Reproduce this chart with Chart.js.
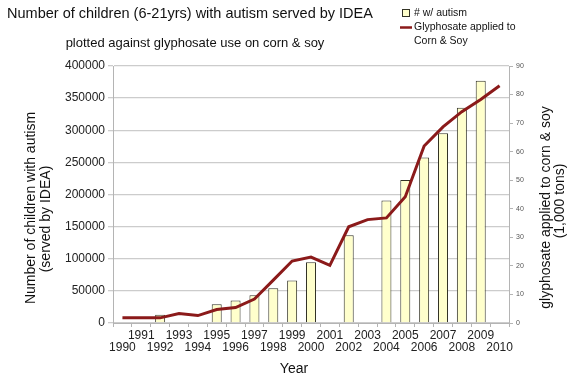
<!DOCTYPE html>
<html>
<head>
<meta charset="utf-8">
<script src="https://cdn.jsdelivr.net/npm/chart.js@4.4.1/dist/chart.umd.min.js"></script>
<style>
  html, body { margin: 0; padding: 0; background: #fff; }
  #wrap { width: 574px; height: 380px; }
</style>
</head>
<body>
<div id="wrap"><canvas id="chart" width="574" height="380"></canvas></div>
<script>
// --- data ---
const years = ['1990', '1991', '1992', '1993', '1994', '1995', '1996', '1997', '1998', '1999', '2000',
               '2001', '2002', '2003', '2004', '2005', '2006', '2007', '2008', '2009', '2010'];
const autismCounts = [null, null, 13000, null, null, 29000, 35000, 43000, 54000, 66000, 94500,
                      null, 136500, null, 190500, 222500, 257500, 295500, 335000, 377000, null];
const glyphosateTons = [1.8, 1.8, 1.8, 3.3, 2.6, 4.7, 5.4, 8.4, 15, 21.7, 23.1,
                        20.2, 33.7, 36.2, 36.8, 44.2, 62, 68.7, 74, 78.3, 83.1];
const leftTicks = { min: 0, max: 400000, step: 50000 };
const rightTicks = { min: 0, max: 90, step: 10 };

const FONT = '"Liberation Sans", Arial, sans-serif';
const BAR_FILL = '#ffffcc';
const BAR_EDGE = '#333326';
const LINE_RED = '#8b1a1a';

// titles, legend and axis titles drawn as text on top
const textPlugin = {
  id: 'texts',
  afterDraw(chart) {
    const ctx = chart.ctx;
    ctx.save();
    ctx.fillStyle = '#111';
    ctx.textAlign = 'center';
    ctx.textBaseline = 'middle';

    ctx.font = '14.5px ' + FONT;
    ctx.fillText('Number of children (6-21yrs) with autism served by IDEA', 190, 14);
    ctx.font = '13px ' + FONT;
    ctx.fillText('plotted against glyphosate use on corn & soy', 195, 43);

    // legend
    ctx.fillStyle = BAR_FILL;
    ctx.fillRect(402.5, 9.5, 7, 7);
    ctx.strokeStyle = BAR_EDGE;
    ctx.lineWidth = 1;
    ctx.strokeRect(402.5, 9.5, 7, 7);
    ctx.strokeStyle = LINE_RED;
    ctx.lineWidth = 2.5;
    ctx.beginPath();
    ctx.moveTo(400, 27.5);
    ctx.lineTo(412, 27.5);
    ctx.stroke();
    ctx.fillStyle = '#111';
    ctx.textAlign = 'left';
    ctx.font = '10.5px ' + FONT;
    ctx.fillText('# w/ autism', 414, 13.5);
    ctx.fillText('Glyphosate applied to', 414, 27.5);
    ctx.fillText('Corn & Soy', 414, 41);

    // x title
    ctx.textAlign = 'center';
    ctx.font = '14px ' + FONT;
    ctx.fillText('Year', 294, 369);

    // left title
    ctx.save();
    ctx.translate(31.5, 208);
    ctx.rotate(-Math.PI / 2);
    ctx.fillText('Number of children with autism', 0, 0);
    ctx.restore();
    ctx.save();
    ctx.translate(46.5, 219);
    ctx.rotate(-Math.PI / 2);
    ctx.fillText('(served by IDEA)', 0, 0);
    ctx.restore();

    // right title
    ctx.save();
    ctx.translate(546.5, 207.5);
    ctx.rotate(-Math.PI / 2);
    ctx.fillText('glyphosate applied to corn & soy', 0, 0);
    ctx.restore();
    ctx.save();
    ctx.translate(560, 201);
    ctx.rotate(-Math.PI / 2);
    ctx.fillText('(1,000 tons)', 0, 0);
    ctx.restore();

    ctx.restore();
  }
};

const ctx = document.getElementById('chart').getContext('2d');
new Chart(ctx, {
  type: 'bar',
  data: {
    labels: years,
    datasets: [
      {
        type: 'line',
        label: 'Glyphosate applied to Corn & Soy',
        data: glyphosateTons,
        yAxisID: 'y1',
        borderColor: LINE_RED,
        borderWidth: 3,
        pointRadius: 0,
        tension: 0,
        fill: false,
        order: 1
      },
      {
        label: '# w/ autism',
        data: autismCounts,
        yAxisID: 'y',
        backgroundColor: BAR_FILL,
        borderColor: BAR_EDGE,
        borderWidth: 1,
        categoryPercentage: 1,
        barPercentage: 0.53,
        order: 2
      }
    ]
  },
  options: {
    responsive: false,
    animation: false,
    layout: { padding: { top: 66, left: 0, right: 0, bottom: 0 } },
    plugins: {
      legend: { display: false },
      title: { display: false },
      tooltip: { enabled: false }
    },
    scales: {
      x: {
        offset: true,
        grid: { display: true, drawOnChartArea: false, offset: true, tickLength: 4, color: '#b4b4b4' },
        border: { display: true, color: '#b4b4b4' },
        ticks: {
          autoSkip: false,
          maxRotation: 0,
          minRotation: 0,
          padding: 2,
          color: '#222',
          font: { family: FONT, size: 12, lineHeight: 1.05 },
          callback: function (value, index) {
            const lab = this.getLabelForValue(value);
            return index % 2 === 1 ? [lab, ''] : ['', lab];
          }
        },
        afterFit: (s) => { s.height = 57; }
      },
      y: {
        position: 'left',
        min: leftTicks.min,
        max: leftTicks.max,
        grid: { color: '#cccccc', lineWidth: 1.3, tickLength: 5 },
        border: { display: true, color: '#b4b4b4' },
        ticks: {
          stepSize: leftTicks.step,
          padding: 3,
          color: '#222',
          font: { family: FONT, size: 12 },
          callback: (v) => String(v)
        },
        afterFit: (s) => { s.width = 113; }
      },
      y1: {
        position: 'right',
        min: rightTicks.min,
        max: rightTicks.max,
        grid: { drawOnChartArea: false, color: '#b4b4b4', tickLength: 4 },
        border: { display: true, color: '#b4b4b4' },
        ticks: {
          stepSize: rightTicks.step,
          padding: 3,
          color: '#555',
          font: { family: FONT, size: 7 }
        },
        afterFit: (s) => { s.width = 65; }
      }
    }
  },
  plugins: [textPlugin]
});
</script>
</body>
</html>
